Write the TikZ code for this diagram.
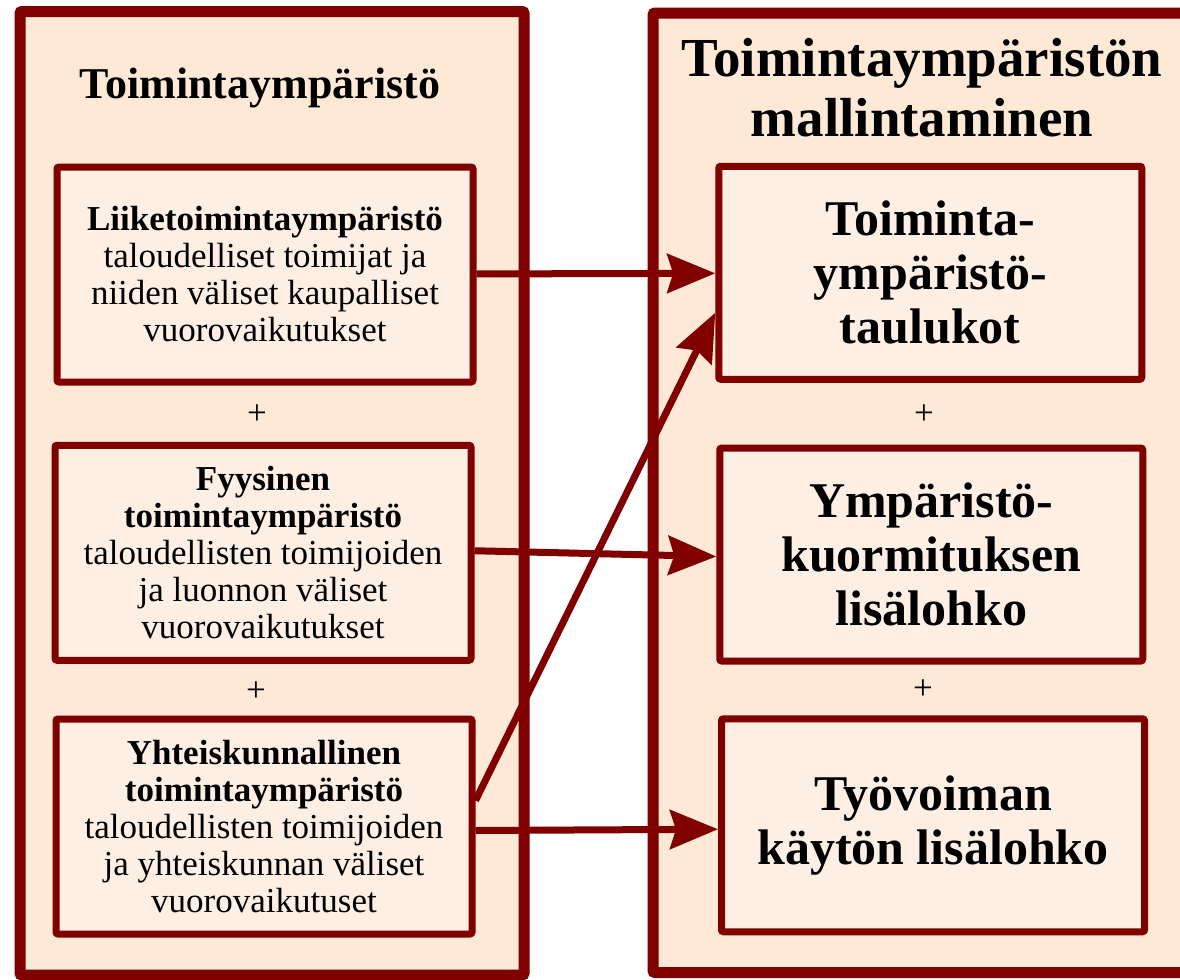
\documentclass[tikz,border=0pt]{standalone}
\usepackage{fontspec}
\setmainfont{Liberation Serif}
\usetikzlibrary{arrows.meta}
\definecolor{boxred}{RGB}{128,0,0}
\definecolor{outerfill}{RGB}{253,233,214}
\definecolor{innerfill}{RGB}{253,239,228}
\newcommand{\smalltxt}{\fontsize{17.5}{18.5}\selectfont}
\newcommand{\bigtxt}{\fontsize{25}{27}\selectfont}
\newcommand{\titletxt}{\fontsize{22}{24}\selectfont}
\newcommand{\headtxt}{\fontsize{27.5}{30}\selectfont}
\tikzstyle{envframe} = [draw=boxred, line width=5.5pt, fill=outerfill, rounded corners=1pt]
\tikzstyle{leftbox} = [draw=boxred, line width=3.5pt, fill=innerfill, rounded corners=1pt, minimum width=208pt, minimum height=107.5pt, inner sep=0pt, align=center, font=\smalltxt]
\tikzstyle{rightbox} = [draw=boxred, line width=3.5pt, fill=innerfill, rounded corners=1pt, minimum width=211.5pt, minimum height=106.5pt, inner sep=0pt, align=center, font=\bigtxt\bfseries]
\tikzstyle{link} = [draw=boxred, line width=3.5pt, -{Stealth[length=24pt, width=19.5pt, inset=3pt]}]

\begin{document}
\begin{tikzpicture}[x=0.5pt, y=-0.5pt]
	\useasboundingbox (0,0) rectangle (1180,980);
	\clip (0,0) rectangle (1180,980);
	\node [envframe, minimum width=252pt, minimum height=481.75pt] (envleft) at (272,493.25) {};
	\node [envframe, minimum width=271pt, minimum height=479.75pt] (envright) at (924,492.75) {};
	\node [font=\titletxt\bfseries] (envtitle) at (260,88) {Toimintaympäristö};
	\node [font=\headtxt\bfseries, align=center] (modeltitle) at (922,88) {Toimintaympäristön\\mallintaminen};

	\node [leftbox] (lbox1) at (265,274.5) {\textbf{Liiketoimintaympäristö}\\taloudelliset toimijat ja\\niiden väliset kaupalliset\\vuorovaikutukset};
	\node [leftbox] (lbox2) at (263,552.75) {\textbf{Fyysinen}\\\textbf{toimintaympäristö}\\taloudellisten toimijoiden\\ja luonnon väliset\\vuorovaikutukset};
	\node [leftbox] (lbox3) at (264,826.5) {\textbf{Yhteiskunnallinen}\\\textbf{toimintaympäristö}\\taloudellisten toimijoiden\\ja yhteiskunnan väliset\\vuorovaikutuset};
	\node [font=\smalltxt] (lplus1) at (257,415) {+};
	\node [font=\smalltxt] (lplus2) at (256,692) {+};

	\node [rightbox] (rbox1) at (930.25,272.75) {Toiminta-\\ympäristö-\\taulukot};
	\node [rightbox] (rbox2) at (931.25,554.5) {Ympäristö-\\kuormituksen\\lisälohko};
	\node [rightbox] (rbox3) at (933,825.25) {Työvoiman\\käytön lisälohko};
	\node [font=\smalltxt] (rplus1) at (924,415) {+};
	\node [font=\smalltxt] (rplus2) at (923,690) {+};

	\draw [link] (lbox1) -- (rbox1);
	\draw [link] ([yshift=1pt]lbox2.east) -- ([yshift=-1pt]rbox2.west);
	\draw [link] ([yshift=-2pt]lbox3.east) -- ([yshift=-2pt]rbox3.west);
	\draw [link] ([yshift=13pt]lbox3.east) -- ([yshift=-20pt]rbox1.west);
\end{tikzpicture}
\end{document}
